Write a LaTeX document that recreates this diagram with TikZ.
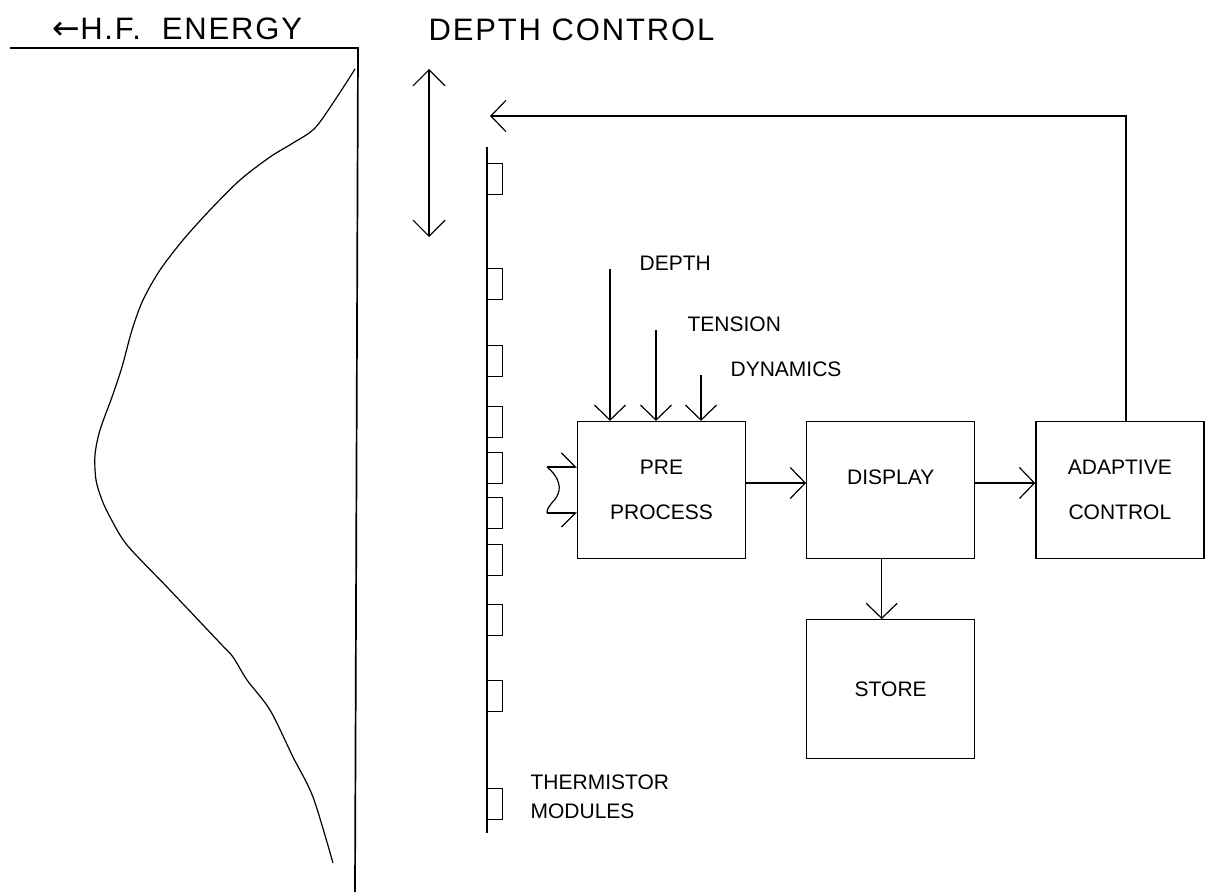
\documentclass[tikz,border=0pt]{standalone}
\usepackage{fontspec}
\setmainfont{Liberation Sans}
\newfontfamily\arrowfont{DejaVu Sans}
\newfontfamily\spacedsans[LetterSpace=6]{Liberation Sans}
\usetikzlibrary{positioning,arrows.meta}
\newcommand\smallsans{\fontsize{21}{29}\selectfont}
\newcommand\bigsans{\spacedsans\fontsize{31}{37}\selectfont}

\begin{document}
\begin{tikzpicture}[x=1pt, y=-1pt, line width=1.2pt, node distance=60pt,
    proc node/.style={draw, minimum width=168pt, minimum height=137pt,
                      inner sep=0pt, align=center, font=\smallsans},
    module node/.style={draw, minimum width=15pt, minimum height=31pt,
                        inner sep=0pt, anchor=north west},
    tag/.style={inner sep=0pt, anchor=base west, font=\smallsans},
    big tag/.style={inner sep=0pt, anchor=base west, font=\bigsans},
    sig/.style={-{Straight Barb[length=15pt, width=31pt]}},
    both sig/.style={{Straight Barb[length=16pt, width=32pt]}-{Straight Barb[length=16pt, width=32pt]}}]
  \useasboundingbox (0,0) rectangle (1205,894);

  % energy profile
  \node[big tag] (hflab) at (52,39) {{\arrowfont\fontsize{33}{37}\selectfont ←}H.F.\ \ ENERGY};
  \coordinate (axisL) at (10,48);
  \coordinate (axisC) at (358,48);
  \coordinate (axisB) at (355,892);
  \draw[line width=1.7pt] (axisL) -- (axisC) -- (axisB);
  \draw plot[smooth] coordinates {(355,69) (337,97) (315,128) (293,143)
    (270,157) (240,180) (210,210) (183,240) (160,270) (143,300) (132,330)
    (122,367) (112,397) (100,430) (95,455) (96,480) (102,500) (110,517)
    (127,545) (167,587) (220,643) (233,657) (247,680) (270,710) (293,757)
    (313,797) (333,863)};

  % depth control
  \node[big tag] (dclab) at (428,40) {DEPTH\ CONTROL};
  \coordinate (dctop) at (429,69);
  \coordinate (dcbot) at (429,237);
  \draw[both sig] (dctop) -- (dcbot);

  % thermistor chain
  \coordinate (chaintop) at (487,147);
  \coordinate (chainbot) at (487,833);
  \draw (chaintop) -- (chainbot);
  \node[module node] (m1) at (487,163) {};
  \node[module node] (m2) at (487,268) {};
  \node[module node] (m3) at (487,345) {};
  \node[module node] (m4) at (487,406) {};
  \node[module node] (m5) at (487,452) {};
  \node[module node] (m6) at (487,497) {};
  \node[module node] (m7) at (487,544) {};
  \node[module node] (m8) at (487,604) {};
  \node[module node] (m9) at (487,680) {};
  \node[module node] (m10) at (487,788) {};
  \node[tag, anchor=west, align=left] (thermlab) at (530,797) {THERMISTOR\\MODULES};

  % processing chain
  \node[proc node] (pre) at (661.5,490) {PRE\\[16pt]PROCESS};
  \node[proc node] (disp) [right=of pre] {};
  \node[font=\smallsans, inner sep=0pt] (displab) at ([yshift=13pt]disp.center) {DISPLAY};
  \node[proc node] (adapt) [right=of disp] {ADAPTIVE\\[16pt]CONTROL};
  \node[proc node, minimum height=139pt] (store) [below=of disp] {STORE};

  \coordinate (depthin) at (610,269);
  \coordinate (tensin) at (656,330);
  \coordinate (dynin) at (701,375);
  \node[tag] (depthlab) at ([xshift=29pt,yshift=-1pt]depthin) {DEPTH};
  \node[tag] (tenslab) at ([xshift=31pt,yshift=-1pt]tensin) {TENSION};
  \node[tag] (dynlab) at ([xshift=29pt,yshift=-1pt]dynin) {DYNAMICS};

  \coordinate (cabup) at (547,467);
  \coordinate (cablo) at (547,513);
  \coordinate (fbtip) at (490,116);

  \draw[sig] (depthin) -- (depthin |- pre.north);
  \draw[sig] (tensin) -- (tensin |- pre.north);
  \draw[sig] (dynin) -- (dynin |- pre.north);
  \draw[-{Straight Barb[harpoon, length=14pt, width=28pt]}] (cabup) -- (cabup -| pre.west);
  \draw[-{Straight Barb[harpoon, swap, length=14pt, width=28pt]}] (cablo) -- (cablo -| pre.west);
  \draw (cabup) .. controls (556,474) and (562,485) .. (558,494)
        .. controls (555,502) and (547,505) .. (cablo);
  \draw[sig] ([yshift=7pt]pre.east) -- ([yshift=7pt]disp.west);
  \draw[sig] ([yshift=7pt]disp.east) -- ([yshift=7pt]adapt.west);
  \draw[sig] ([xshift=-9pt]disp.south) -- ([xshift=-9pt]store.north);
  \draw[sig] ([xshift=6pt]adapt.north) |- (fbtip);
\end{tikzpicture}
\end{document}
